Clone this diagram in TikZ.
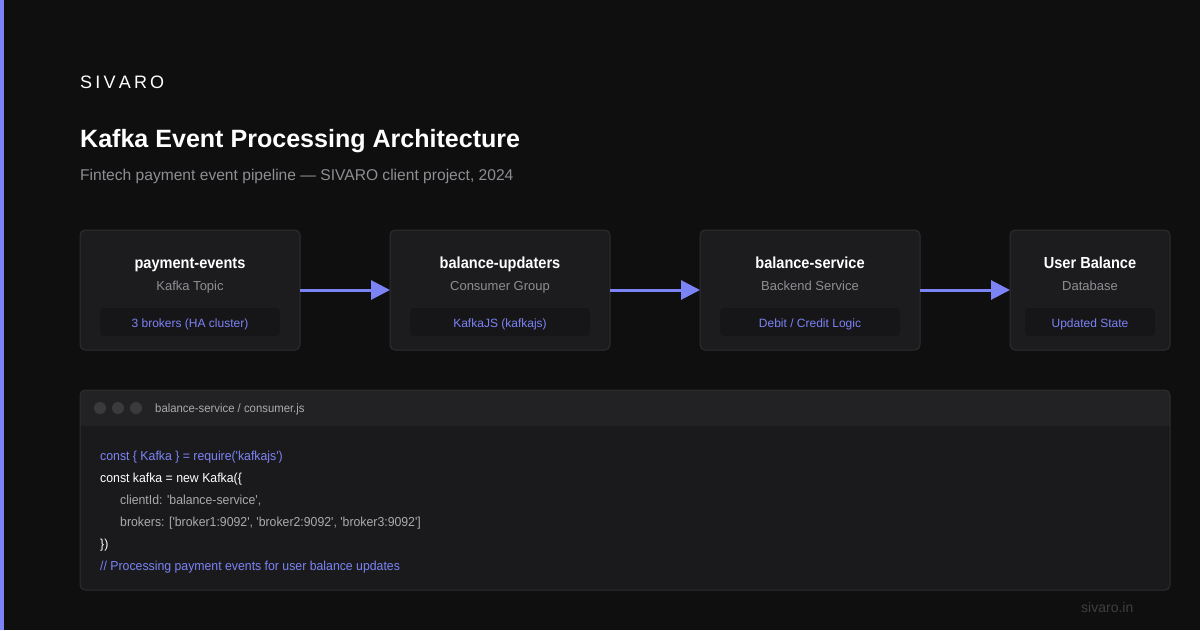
\documentclass[tikz,border=0pt]{standalone}
\usepackage{fontspec}
\setmainfont{Liberation Sans}
\usetikzlibrary{arrows.meta}
\definecolor{bg}{HTML}{0F0F10}
\definecolor{accent}{HTML}{7C83F5}
\definecolor{boxfill}{HTML}{1C1C1E}
\definecolor{boxline}{HTML}{2E2E31}
\definecolor{pillfill}{HTML}{161618}
\definecolor{subgray}{HTML}{8E8E93}
\definecolor{codehead}{HTML}{222224}
\definecolor{codebody}{HTML}{1A1A1C}
\definecolor{dotgray}{HTML}{3A3A3C}
\definecolor{codegray}{HTML}{ABABAE}
\definecolor{footgray}{HTML}{3F3F42}
\tikzset{
  card/.style={draw=boxline, line width=1pt, fill=boxfill, rounded corners=5pt},
  pill/.style={fill=pillfill, rounded corners=4pt},
  cardtitle/.style={text=white, font=\fontsize{16}{18}\selectfont\bfseries, inner sep=0pt},
  cardsub/.style={text=subgray, font=\fontsize{13}{15}\selectfont, inner sep=0pt},
  pilltext/.style={text=accent, font=\fontsize{12}{14}\selectfont, inner sep=0pt},
  flow/.style={draw=accent, line width=3pt, -{Triangle[length=19pt,width=19pt]}, shorten >=0pt},
  codeline/.style={anchor=base west, inner sep=0pt, font=\fontsize{13}{15}\selectfont},
}
\newcommand{\cnarrow}[1]{\scalebox{0.945}[1]{#1}}
\newcommand{\sq}{\textquotesingle}
\begin{document}
\begin{tikzpicture}[x=1pt,y=-1pt]
\fill[bg] (0,0) rectangle (1200,630);
\useasboundingbox (0,0) rectangle (1200,630);
\fill[accent] (0,0) rectangle (4,630);

\node[anchor=base west, inner sep=0pt, text=white, font=\fontsize{18}{20}\selectfont] (brand) at (80,88) {S\kern3.2pt I\kern3.2pt V\kern3.2pt A\kern3.2pt R\kern3.2pt O};
\node[anchor=base west, inner sep=0pt, text=white, font=\fontsize{26}{30}\selectfont\bfseries] (title) at (80,147) {\resizebox{440pt}{!}{Kafka Event Processing Architecture}};
\node[anchor=base west, inner sep=0pt, text=subgray, font=\fontsize{15.6}{18}\selectfont] (subtitle) at (80,180) {Fintech payment event pipeline — SIVARO client project, 2024};

% cards
\foreach \n/\xa/\xb/\pa/\pb/\t/\s/\p in {
  c1/80/300/100/280/payment-events/Kafka Topic/3 brokers (HA cluster),
  c2/390/610/410/590/balance-updaters/Consumer Group/KafkaJS (kafkajs),
  c3/700/920/720/900/balance-service/Backend Service/{Debit / Credit Logic},
  c4/1010/1170/1025/1155/User Balance/Database/Updated State}{
  \path[card] (\xa,230) rectangle (\xb,350);
  \node[cardtitle, anchor=base] (\n t) at ({(\xa+\xb)/2},268) {\scalebox{0.91}[1]{\t}};
  \node[cardsub, anchor=base] (\n s) at ({(\xa+\xb)/2},290) {\s};
  \path[pill] (\pa,308) rectangle (\pb,336);
  \node[pilltext, anchor=base] (\n p) at ({(\xa+\xb)/2},327) {\p};
}
\coordinate (c1r) at (300,290);
\coordinate (c2l) at (390,290);
\coordinate (c2r) at (610,290);
\coordinate (c3l) at (700,290);
\coordinate (c3r) at (920,290);
\coordinate (c4l) at (1010,290);
\draw[flow] (c1r) -- (c2l);
\draw[flow] (c2r) -- (c3l);
\draw[flow] (c3r) -- (c4l);

% code panel
\fill[codebody, rounded corners=5pt] (80,390) rectangle (1170,590);
\fill[codehead, rounded corners=5pt] (80,390) rectangle (1170,426);
\fill[codehead] (80,415) rectangle (1170,426);
\draw[boxline, line width=1pt, rounded corners=5pt] (80,390) rectangle (1170,590);
\foreach \x in {100,118,136} \fill[dotgray] (\x,408) circle (6pt);
\node[anchor=base west, inner sep=0pt, text=codegray, font=\fontsize{12}{14}\selectfont] (fname) at (155,412.5) {\cnarrow{balance-service / consumer.js}};

\node[codeline, text=accent] (l1) at (100,460) {\cnarrow{const \{ Kafka \} = require(\sq kafkajs\sq)}};
\node[codeline, text=white] (l2) at (100,482) {\cnarrow{const kafka = new Kafka(\{}};
\node[codeline, text=codegray] (l3) at (120,504) {\cnarrow{clientId: \sq balance-service\sq,}};
\node[codeline, text=codegray] (l4) at (120,526) {\cnarrow{brokers: [\sq broker1:9092\sq, \sq broker2:9092\sq, \sq broker3:9092\sq]}};
\node[codeline, text=white] (l5) at (100,548) {\cnarrow{\})}};
\node[codeline, text=accent] (l6) at (100,570) {\cnarrow{// Processing payment events for user balance updates}};

\node[anchor=base west, inner sep=0pt, text=footgray, font=\fontsize{14}{16}\selectfont] (foot) at (1081,612) {sivaro.in};
\end{tikzpicture}
\end{document}
